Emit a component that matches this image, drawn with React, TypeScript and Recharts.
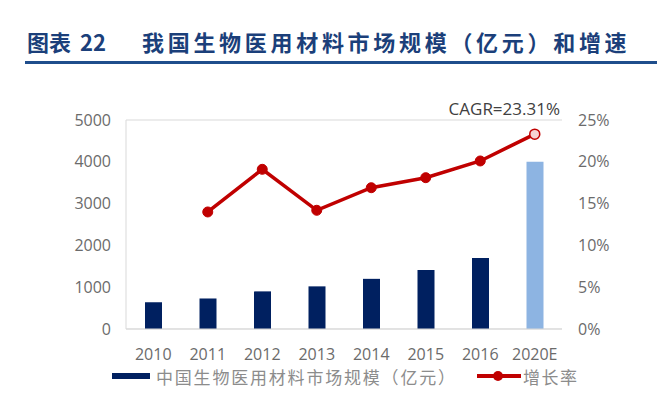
import React from "react";
import { ComposedChart, Bar, Line, XAxis, YAxis, CartesianGrid, Legend, Cell } from "recharts";

const years = ["2010", "2011", "2012", "2013", "2014", "2015", "2016", "2020E"];
const marketSize = [640, 730, 900, 1020, 1200, 1410, 1700, 4000];
const growthRate = [null, 14.0, 19.1, 14.2, 16.9, 18.1, 20.1, 23.31];
const leftTicks = [0, 1000, 2000, 3000, 4000, 5000];
const rightTicks = [0, 5, 10, 15, 20, 25];

const BAR_NAME = "中国生物医用材料市场规模（亿元）";
const LINE_NAME = "增长率";
const NAVY = "#002060";
const LIGHT_BLUE = "#8DB4E2";
const RED = "#C00000";
const NUM_FONT = "'Open Sans', sans-serif";
const CJK_FONT = "'Noto Sans CJK SC', sans-serif";

const rows = years.map((y, i) => ({ year: y, size: marketSize[i], rate: growthRate[i] }));

const RateDot = (props: any) => {
  const { cx, cy, index, value } = props;
  if (value == null || cx == null || cy == null) return null;
  const last = index === years.length - 1;
  return (
    <circle
      key={`dot-${index}`}
      cx={cx}
      cy={cy}
      r={5}
      fill={last ? "#F6D3D3" : RED}
      stroke={RED}
      strokeWidth={last ? 1.5 : 1}
    />
  );
};

const LegendBox = () => (
  <div style={{ position: "relative", width: 670, height: 20, fontFamily: CJK_FONT, fontSize: 17, color: "#8c8c8c" }}>
    <div style={{ position: "absolute", left: 112, top: 5, width: 38, height: 6, background: NAVY }} />
    <div style={{ position: "absolute", left: 156, top: 0, lineHeight: "17px", letterSpacing: 1.8, whiteSpace: "nowrap" }}>
      {BAR_NAME}
    </div>
    <svg style={{ position: "absolute", left: 476, top: -2 }} width={46} height={20}>
      <line x1={1} y1={10} x2={45} y2={10} stroke={RED} strokeWidth={4} />
      <circle cx={22} cy={10} r={5} fill={RED} />
    </svg>
    <div style={{ position: "absolute", left: 523, top: 0, lineHeight: "17px", letterSpacing: 1.5, whiteSpace: "nowrap" }}>
      {LINE_NAME}
    </div>
  </div>
);

export default function App() {
  return (
    <div style={{ position: "fixed", left: 0, top: 0, width: 670, height: 396, background: "#fff", overflow: "hidden" }}>
      <div
        style={{
          position: "absolute",
          left: 27,
          top: 29,
          fontFamily: CJK_FONT,
          fontWeight: 700,
          fontSize: 22,
          lineHeight: "24px",
          color: "#1B3F7A",
          whiteSpace: "nowrap",
          wordSpacing: 4,
        }}
      >
        图表 22
      </div>
      <div
        style={{
          position: "absolute",
          left: 142,
          top: 29,
          fontFamily: CJK_FONT,
          fontWeight: 700,
          fontSize: 22,
          lineHeight: "24px",
          letterSpacing: 3.7,
          color: "#1B3F7A",
          whiteSpace: "nowrap",
        }}
      >
        我国生物医用材料市场规模（亿元）和增速
      </div>
      <div style={{ position: "absolute", left: 25, top: 61, width: 632, height: 3, background: "#1F4E8C" }} />
      <div
        style={{
          position: "absolute",
          right: 110,
          top: 98,
          fontFamily: NUM_FONT,
          fontSize: 17,
          lineHeight: "22px",
          color: "#404040",
        }}
      >
        CAGR=23.31%
      </div>
      <ComposedChart width={670} height={396} data={rows} margin={{ top: 120, right: 48, bottom: 37, left: 66 }}>
        <CartesianGrid vertical={false} stroke="#d9d9d9" />
        <XAxis
          dataKey="year"
          height={30}
          tickLine={false}
          axisLine={{ stroke: "#d9d9d9" }}
          tickMargin={14}
          tick={{ fill: "#6b6b6b", fontSize: 16, fontFamily: NUM_FONT }}
        />
        <YAxis
          yAxisId="left"
          width={60}
          domain={[0, 5000]}
          ticks={leftTicks}
          tickLine={false}
          axisLine={{ stroke: "#d9d9d9" }}
          tickMargin={9}
          tick={{ fill: "#6b6b6b", fontSize: 16, fontFamily: NUM_FONT }}
        />
        <YAxis
          yAxisId="right"
          orientation="right"
          width={60}
          domain={[0, 25]}
          ticks={rightTicks}
          tickFormatter={(v: number) => `${v}%`}
          tickLine={false}
          axisLine={false}
          tickMargin={10}
          tick={{ fill: "#6b6b6b", fontSize: 16, fontFamily: NUM_FONT, textAnchor: "start" }}
        />
        <Legend
          verticalAlign="middle"
          layout="horizontal"
          wrapperStyle={{ left: 0, top: 368, width: 670, height: 20 }}
          content={() => <LegendBox />}
        />
        <Bar yAxisId="left" dataKey="size" name={BAR_NAME} barSize={17} isAnimationActive={false}>
          {rows.map((r, i) => (
            <Cell key={r.year} fill={i === rows.length - 1 ? LIGHT_BLUE : NAVY} />
          ))}
        </Bar>
        <Line
          yAxisId="right"
          type="linear"
          dataKey="rate"
          name={LINE_NAME}
          stroke={RED}
          strokeWidth={3.5}
          dot={RateDot}
          activeDot={false}
          isAnimationActive={false}
        />
      </ComposedChart>
    </div>
  );
}
